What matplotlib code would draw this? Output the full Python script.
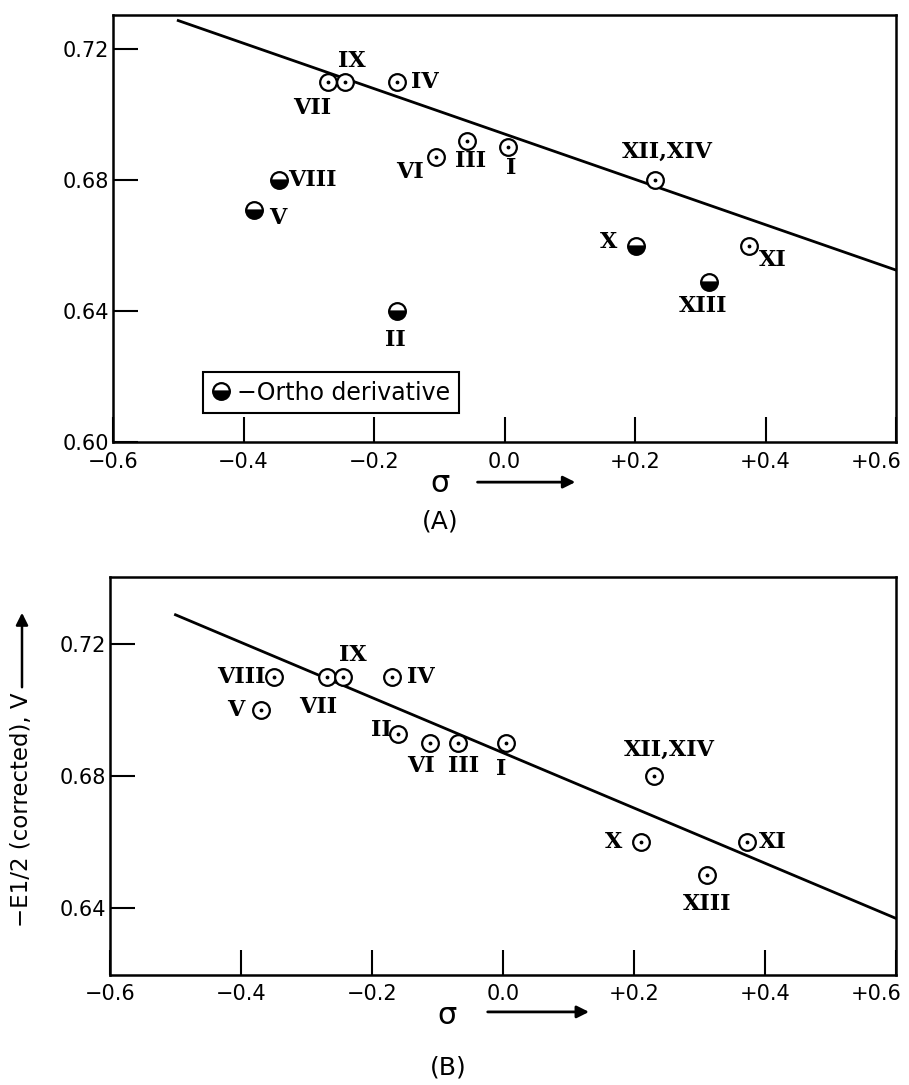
import numpy as np
import matplotlib
matplotlib.use('Agg')
import matplotlib.pyplot as plt
import matplotlib.transforms as mtransforms
from matplotlib.lines import Line2D
from matplotlib.patches import FancyArrowPatch

# panel A - open circles (para/meta derivatives)
a_open_lbl = ['VII', 'IX', 'IV', 'VI', 'III', 'I', 'XII,XIV', 'XI']
a_open_sig = [-0.270, -0.245, -0.165, -0.105, -0.057, 0.005, 0.230, 0.375]
a_open_e = [0.710, 0.710, 0.710, 0.687, 0.692, 0.690, 0.680, 0.660]

# panel A - ortho derivatives (half filled)
a_orth_lbl = ['VIII', 'V', 'II', 'X', 'XIII']
a_orth_sig = [-0.345, -0.384, -0.164, 0.202, 0.313]
a_orth_e = [0.680, 0.671, 0.640, 0.660, 0.649]

a_fit_sig = [-0.50, 0.60]
a_fit_e = [0.7287, 0.6525]

# panel B - corrected values
b_lbl = ['VIII', 'V', 'VII', 'IX', 'IV', 'II', 'VI', 'III', 'I', 'XII,XIV', 'X', 'XI', 'XIII']
b_sig = [-0.350, -0.370, -0.268, -0.244, -0.170, -0.161, -0.111, -0.068, 0.004, 0.230, 0.210, 0.372, 0.312]
b_e = [0.710, 0.700, 0.710, 0.710, 0.710, 0.693, 0.690, 0.690, 0.690, 0.680, 0.660, 0.660, 0.650]

b_fit_sig = [-0.50, 0.60]
b_fit_e = [0.729, 0.637]

xticks = [-0.6, -0.4, -0.2, 0.0, 0.2, 0.4, 0.6]
xtick_lbl = ['\u22120.6', '\u22120.4', '\u22120.2', '0.0', '+0.2', '+0.4', '+0.6']

# label offsets in pixels (dx, dy)
a_open_off = [(-16, -26), (7, 21), (28, 0), (-26, -15), (3, -20), (3, -21), (13, 28), (24, -14)]
a_orth_off = [(33, 0), (24, -8), (-2, -29), (-28, 4), (-6, -24)]
b_off = [(-32, 0), (-25, 0), (-9, -30), (10, 22), (29, 0), (-16, 4), (-9, -23), (5, -23),
         (-4, -26), (16, 27), (-27, 0), (26, 0), (0, -29)]

TXT = 'DejaVu Sans'
ROM = dict(family='DejaVu Serif', weight='bold', fontsize=16)
MS = 12


def open_pts(ax, x, y):
    ax.plot(x, y, 'o', ms=MS, mfc='white', mec='black', mew=1.6, ls='none', zorder=4)
    ax.plot(x, y, '.', ms=3.5, color='black', ls='none', zorder=5)


def orth_pts(ax, x, y):
    ax.plot(x, y, 'o', ms=MS, fillstyle='bottom', mfc='black', mfcalt='white',
            mec='black', mew=1.6, ls='none', zorder=4)


def label_pts(ax, lbls, x, y, offs):
    for l, xx, yy, (dx, dy) in zip(lbls, x, y, offs):
        ax.annotate(l, (xx, yy), xytext=(dx, dy), textcoords='offset pixels',
                    ha='center', va='center', zorder=6, **ROM)


def style_axes(ax, ylim, yticks):
    ax.set_xlim(-0.6, 0.6)
    ax.set_ylim(*ylim)
    ax.set_xticks(xticks)
    ax.set_xticklabels(xtick_lbl)
    ax.set_yticks(yticks)
    ax.set_yticklabels(['%.2f' % v for v in yticks])
    ax.tick_params(direction='in', length=18, width=1.5, labelsize=15)
    ax.tick_params(axis='x', pad=7)
    ax.tick_params(axis='y', pad=3)
    for lab in ax.get_xticklabels() + ax.get_yticklabels():
        lab.set_family(TXT)
    # last x label sits a bit inside the frame, as in the original
    last = ax.get_xticklabels()[-1]
    last.set_transform(last.get_transform() +
                       mtransforms.ScaledTranslation(-0.2, 0, ax.figure.dpi_scale_trans))
    for s in ax.spines.values():
        s.set_linewidth(1.8)


def sigma_label(ax, sx, sy, x0, x1, ay):
    ax.text(sx, sy, '\u03c3', transform=ax.transAxes, fontsize=22,
            ha='center', va='center', family=TXT)
    ax.annotate('', xy=(x1, ay), xytext=(x0, ay), xycoords='axes fraction',
                textcoords='axes fraction',
                arrowprops=dict(arrowstyle='-|>', color='black', lw=2, mutation_scale=18))


W, H = 909, 1085
fig = plt.figure(figsize=(W / 100, H / 100), dpi=100)

# ---- panel A ----
axA = fig.add_axes([113 / W, 1 - 442 / H, 783 / W, 427 / H])
axA.plot(a_fit_sig, a_fit_e, color='black', lw=2.0, zorder=3)
open_pts(axA, a_open_sig, a_open_e)
orth_pts(axA, a_orth_sig, a_orth_e)
label_pts(axA, a_open_lbl, a_open_sig, a_open_e, a_open_off)
label_pts(axA, a_orth_lbl, a_orth_sig, a_orth_e, a_orth_off)
style_axes(axA, (0.60, 0.7304), [0.60, 0.64, 0.68, 0.72])

h = Line2D([], [], marker='o', ms=MS, fillstyle='bottom', mfc='black', mfcalt='white',
           mec='black', mew=1.6, ls='none')
leg = axA.legend([h], ['\u2212Ortho derivative'], loc='lower left',
                 bbox_to_anchor=(0.115, 0.068), borderaxespad=0, fancybox=False,
                 handlelength=0.8, handletextpad=0.3, borderpad=0.35,
                 prop=dict(family=TXT, size=17))
leg.get_frame().set_edgecolor('black')
leg.get_frame().set_linewidth(1.5)
leg.get_frame().set_alpha(1)

sigma_label(axA, 0.418, -0.098, 0.462, 0.594, -0.094)
fig.text(440 / W, 1 - 522 / H, '(A)', ha='center', va='center', fontsize=18, family=TXT)

# ---- panel B ----
axB = fig.add_axes([110 / W, 1 - 974.5 / H, 786 / W, 398 / H])
axB.plot(b_fit_sig, b_fit_e, color='black', lw=2.0, zorder=3)
open_pts(axB, b_sig, b_e)
label_pts(axB, b_lbl, b_sig, b_e, b_off)
style_axes(axB, (0.62, 0.7406), [0.64, 0.68, 0.72])

sigma_label(axB, 0.429, -0.102, 0.477, 0.613, -0.094)

fig.text(22 / W, 1 - 810 / H, '\u2212E1/2 (corrected), V', rotation=90,
         ha='center', va='center', fontsize=16.5, family=TXT)
fig.add_artist(FancyArrowPatch(
    (22 / W, 1 - 690 / H), (22 / W, 1 - 610 / H), transform=fig.transFigure,
    arrowstyle='-|>', color='black', lw=1.8, mutation_scale=18))
fig.text(448 / W, 1 - 1067 / H, '(B)', ha='center', va='center', fontsize=18, family=TXT)

fig.savefig('out.png', dpi=100)
